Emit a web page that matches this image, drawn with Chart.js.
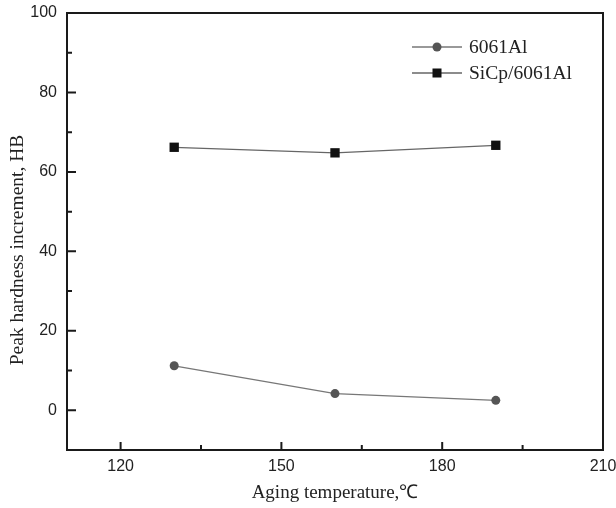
<!DOCTYPE html>
<html>
<head>
<meta charset="utf-8">
<script src="https://cdn.jsdelivr.net/npm/chart.js@4/dist/chart.umd.min.js"></script>
<style>
  html, body { margin: 0; padding: 0; background: #fff; }
  #wrap { width: 616px; height: 508px; }
</style>
</head>
<body>
<div id="wrap"><canvas id="hb"></canvas></div>
<script>
// values
const temps = [130, 160, 190];
const al6061 = [11.2, 4.2, 2.5];
const sicp = [66.2, 64.8, 66.7];

const xMajor = [120, 150, 180, 210];
const xMinor = [135, 165, 195];
const yMajor = [0, 20, 40, 60, 80, 100];
const yMinor = [10, 30, 50, 70, 90];

const yTitle = 'Peak hardness increment, HB';
const frameColor = '#1a1a1a';

// frame, inward ticks, y title and legend
const framePlugin = {
  id: 'frame',
  afterDraw(chart) {
    const { ctx, chartArea: a, scales } = chart;
    ctx.save();
    ctx.strokeStyle = frameColor;
    ctx.lineWidth = 2;
    ctx.strokeRect(a.left, a.top, a.right - a.left, a.bottom - a.top);

    ctx.beginPath();
    xMajor.forEach(v => {
      const x = scales.x.getPixelForValue(v);
      ctx.moveTo(x, a.bottom); ctx.lineTo(x, a.bottom - 8);
    });
    xMinor.forEach(v => {
      const x = scales.x.getPixelForValue(v);
      ctx.moveTo(x, a.bottom); ctx.lineTo(x, a.bottom - 5);
    });
    yMajor.forEach(v => {
      const y = scales.y.getPixelForValue(v);
      ctx.moveTo(a.left, y); ctx.lineTo(a.left + 9, y);
    });
    yMinor.forEach(v => {
      const y = scales.y.getPixelForValue(v);
      ctx.moveTo(a.left, y); ctx.lineTo(a.left + 5, y);
    });
    ctx.stroke();

    // y title, sits a bit below the middle in the original
    ctx.save();
    ctx.translate(18, 250);
    ctx.rotate(-Math.PI / 2);
    ctx.fillStyle = '#222';
    ctx.font = '19.5px "Liberation Serif"';
    ctx.textAlign = 'center';
    ctx.textBaseline = 'middle';
    ctx.fillText(yTitle, 0, 0);
    ctx.restore();

    // legend
    const lx = 412, ly = 47, gap = 26;
    chart.data.datasets.forEach((ds, i) => {
      const y = ly + i * gap;
      ctx.strokeStyle = ds.borderColor;
      ctx.lineWidth = 1.3;
      ctx.beginPath();
      ctx.moveTo(lx, y); ctx.lineTo(lx + 50, y);
      ctx.stroke();
      ctx.fillStyle = ds.pointBackgroundColor;
      if (ds.pointStyle === 'rect') {
        ctx.fillRect(lx + 20.5, y - 4.5, 9, 9);
      } else {
        ctx.beginPath();
        ctx.arc(lx + 25, y, 4.5, 0, Math.PI * 2);
        ctx.fill();
      }
      ctx.fillStyle = '#222';
      ctx.font = '19.5px "Liberation Serif"';
      ctx.textBaseline = 'middle';
      ctx.fillText(ds.label, lx + 57, y + 1);
    });
    ctx.restore();
  }
};

new Chart(document.getElementById('hb'), {
  type: 'line',
  data: {
    labels: temps,
    datasets: [
      {
        label: '6061Al',
        data: temps.map((t, i) => ({ x: t, y: al6061[i] })),
        borderColor: '#777',
        borderWidth: 1.3,
        pointStyle: 'circle',
        pointRadius: 4.5,
        pointBackgroundColor: '#555',
        pointBorderColor: '#555',
        pointBorderWidth: 0,
        tension: 0,
      },
      {
        label: 'SiCp/6061Al',
        data: temps.map((t, i) => ({ x: t, y: sicp[i] })),
        borderColor: '#666',
        borderWidth: 1.3,
        pointStyle: 'rect',
        pointRadius: 6.6,
        pointBackgroundColor: '#111',
        pointBorderColor: '#111',
        pointBorderWidth: 0,
        tension: 0,
      },
    ],
  },
  options: {
    responsive: true,
    maintainAspectRatio: false,
    animation: false,
    layout: { padding: { top: 13, right: 13, left: 0, bottom: 0 } },
    plugins: {
      legend: { display: false },
      tooltip: { enabled: false },
    },
    scales: {
      x: {
        type: 'linear',
        min: 110,
        max: 210,
        afterBuildTicks: (scale) => { scale.ticks = xMajor.map(v => ({ value: v })); },
        afterFit: (scale) => { scale.height = 58; scale.paddingRight = 0; scale.paddingLeft = 0; },
        grid: { display: false, drawTicks: false },
        border: { display: false },
        ticks: {
          color: '#222',
          padding: 7,
          maxRotation: 0,
          font: { family: '"Liberation Sans"', size: 16 },
        },
        title: {
          display: true,
          text: 'Aging temperature,℃',
          color: '#222',
          padding: { top: 6 },
          font: { family: '"Liberation Serif"', size: 19 },
        },
      },
      y: {
        min: -10,
        max: 100,
        afterBuildTicks: (scale) => { scale.ticks = yMajor.map(v => ({ value: v })); },
        afterFit: (scale) => { scale.width = 67; scale.paddingTop = 0; scale.paddingBottom = 0; },
        grid: { display: false, drawTicks: false },
        border: { display: false },
        ticks: {
          color: '#222',
          padding: 10,
          font: { family: '"Liberation Sans"', size: 16 },
        },
        title: { display: false },
      },
    },
  },
  plugins: [framePlugin],
});
</script>
</body>
</html>
